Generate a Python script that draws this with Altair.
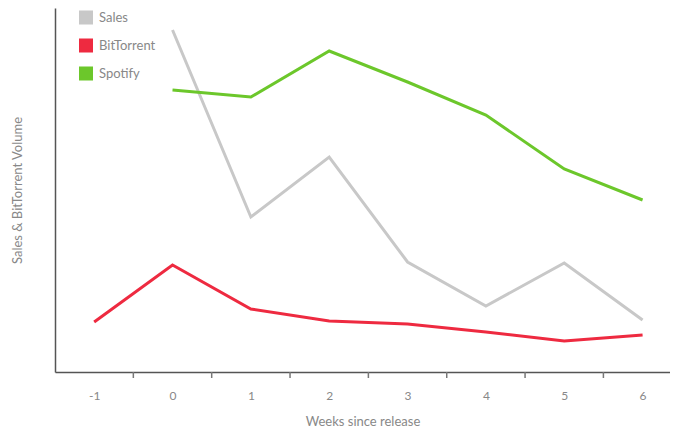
import altair as alt
import pandas as pd

weeks_sales = [0, 1, 2, 3, 4, 5, 6]
sales = [342, 155, 215, 110, 66, 109, 52]
weeks_bt = [-1, 0, 1, 2, 3, 4, 5, 6]
bittorrent = [50, 107, 63, 51, 48, 40, 31, 37]
weeks_sp = [0, 1, 2, 3, 4, 5, 6]
spotify = [282, 275, 321, 290, 257, 203, 172]
tick_positions = [-0.5, 0.5, 1.5, 2.5, 3.5, 4.5, 5.5]
series_names = ["Sales", "BitTorrent", "Spotify"]
series_colors = ["#c8c8c8", "#ee2a40", "#6cc72b"]

rows = []
for w, v in zip(weeks_sales, sales):
    rows.append({"series": "Sales", "week": w, "value": v})
for w, v in zip(weeks_bt, bittorrent):
    rows.append({"series": "BitTorrent", "week": w, "value": v})
for w, v in zip(weeks_sp, spotify):
    rows.append({"series": "Spotify", "week": w, "value": v})
df = pd.DataFrame(rows)
df["order"] = df["series"].map({s: i for i, s in enumerate(series_names)})

W, H = 615, 364
FONT = "Lato"

xscale = alt.Scale(domain=[-1.5, 6.35], nice=False, zero=False)

lines = alt.Chart(df).mark_line(strokeWidth=3).encode(
    x=alt.X("week:Q", scale=xscale,
            axis=alt.Axis(values=list(range(-1, 7)), ticks=False, grid=False,
                          title="Weeks since release", labelPadding=18,
                          titlePadding=14, labelExpr="'' + datum.value")),
    y=alt.Y("value:Q", scale=alt.Scale(domain=[0, 364], nice=False),
            axis=alt.Axis(labels=False, ticks=False, grid=False,
                          title="Sales & BitTorrent Volume", titlePadding=31)),
    color=alt.Color("series:N",
                    scale=alt.Scale(domain=series_names, range=series_colors),
                    legend=alt.Legend(title=None, orient="none", legendX=24, legendY=2,
                                      symbolType="square", symbolSize=4,
                                      symbolStrokeWidth=12, symbolOpacity=1,
                                      clipHeight=15, rowPadding=13,
                                      labelFontSize=13, labelColor="#888888",
                                      labelFont=FONT, labelOffset=6)),
    detail="series:N",
    order="order:Q",
)

ticks_df = pd.DataFrame({"t": tick_positions})
ticks = alt.Chart(ticks_df).mark_rule(color="#777777", strokeWidth=1.5).encode(
    x=alt.X("t:Q", scale=xscale),
    y=alt.value(H),
    y2=alt.value(H + 6),
)

chart = alt.layer(lines, ticks).properties(
    width=W, height=H,
    padding={"left": 47, "top": 0, "right": 0, "bottom": 64},
    autosize=alt.AutoSizeParams(type="none"),
).configure_view(stroke=None).configure_axis(
    domainColor="#555555", domainWidth=1.5,
    labelColor="#888888", labelFontSize=12, labelFont=FONT,
    titleColor="#888888", titleFontSize=13, titleFont=FONT, titleFontWeight="normal",
)

chart.save("out.html", embed_options={"renderer": "svg", "actions": False})
